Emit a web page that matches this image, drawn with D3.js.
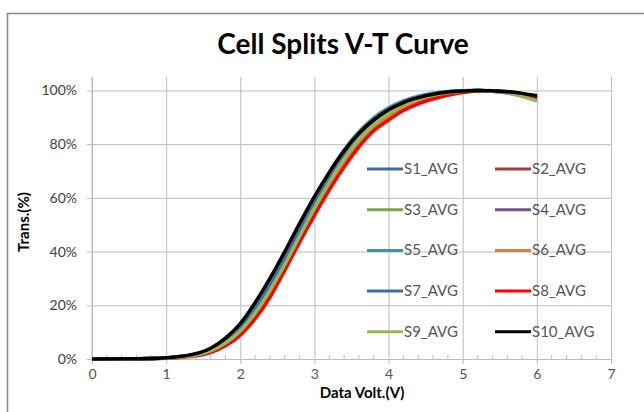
<!DOCTYPE html>
<html>
<head>
<meta charset="utf-8">
<script src="https://cdn.jsdelivr.net/npm/d3@7"></script>
<style>
  body { margin: 0; background: #fff; }
  text { font-family: Lato, "Open Sans", "Liberation Sans", sans-serif; }
</style>
</head>
<body>
<div id="chart"></div>
<script>
// data
const volts = [0, 0.5, 1.0, 1.2, 1.4, 1.6, 1.8, 2.0, 2.2, 2.4, 2.6, 2.8, 3.0, 3.2, 3.4, 3.6, 3.8, 4.0, 4.2, 4.4, 4.6, 4.8, 5.0, 5.2, 5.4, 5.6, 5.8, 6.0];

const s1 = [0, 0.05, 0.4, 0.9, 1.8, 3.6, 7.2, 12.3, 19.5, 28.5, 38.5, 49, 59, 68.5, 77, 84, 89.2, 93, 95.7, 97.5, 98.7, 99.5, 99.9, 100, 99.8, 99.2, 98.2, 96.8];
const s2 = [0, 0.04, 0.35, 0.8, 1.6, 3.2, 6.3, 11, 17.8, 26.4, 36.3, 46.8, 57.2, 66.7, 75.3, 82.5, 88, 92, 94.9, 97, 98.4, 99.3, 99.8, 100, 99.8, 99.3, 98.4, 97.2];
const s3 = [0, 0.04, 0.35, 0.8, 1.55, 3.1, 6.1, 10.7, 17.5, 26, 35.8, 46.3, 56.8, 66.3, 75, 82.2, 87.7, 91.8, 94.8, 96.9, 98.3, 99.2, 99.7, 100, 99.7, 99.1, 97.9, 96.2];
const s4 = [0, 0.04, 0.35, 0.8, 1.6, 3.3, 6.4, 11.1, 18, 26.7, 36.6, 47.2, 57.6, 67.1, 75.7, 82.8, 88.2, 92.2, 95.1, 97.1, 98.5, 99.3, 99.8, 100, 99.8, 99.2, 98.2, 96.8];
const s5 = [0, 0.05, 0.4, 0.9, 1.8, 3.6, 7.1, 12.1, 19.3, 28.3, 38.5, 49.2, 59.5, 69.3, 77.8, 84.6, 89.8, 93.5, 96.1, 97.9, 99, 99.6, 99.9, 100, 99.8, 99.2, 98.1, 96.6];
const s6 = [0, 0.03, 0.3, 0.7, 1.4, 2.8, 5.6, 9.9, 16.3, 24.5, 34, 44.5, 54.8, 64.3, 73, 80.4, 86.2, 90.5, 93.8, 96.1, 97.8, 98.8, 99.5, 99.9, 99.8, 99.3, 98.4, 97.2];
const s7 = [0, 0.04, 0.38, 0.85, 1.7, 3.4, 6.7, 11.5, 18.5, 27.3, 37.3, 48, 58.3, 67.8, 76.3, 83.3, 88.6, 92.5, 95.3, 97.2, 98.5, 99.4, 99.8, 100, 99.8, 99.3, 98.4, 97];
const s8 = [0, 0.02, 0.25, 0.6, 1.2, 2.4, 4.9, 8.9, 15, 23, 33, 43.5, 53.5, 63, 71.5, 79, 85, 89, 92.5, 95, 96.8, 98.2, 99.2, 99.8, 99.9, 99.6, 98.8, 97.5];
const s9 = [0, 0.04, 0.33, 0.78, 1.5, 3.0, 5.9, 10.4, 17.1, 25.5, 35.2, 45.7, 56.2, 65.8, 74.5, 81.8, 87.3, 91.5, 94.6, 96.8, 98.2, 99.1, 99.7, 100, 99.7, 99, 97.8, 96];
const s10 = [0, 0.06, 0.45, 1.0, 2.0, 4.0, 7.8, 13.2, 21, 30, 40, 50.5, 60.5, 69.5, 77.5, 84, 89, 92.8, 95.5, 97.3, 98.6, 99.4, 99.8, 100, 99.9, 99.5, 98.9, 98.0];

const seriesNames = ['S1_AVG', 'S2_AVG', 'S3_AVG', 'S4_AVG', 'S5_AVG', 'S6_AVG', 'S7_AVG', 'S8_AVG', 'S9_AVG', 'S10_AVG'];
const seriesValues = [s1, s2, s3, s4, s5, s6, s7, s8, s9, s10];
const seriesColors = ['#44699b', '#a33f3c', '#83a04a', '#6c5590', '#4193aa', '#d3803c', '#3f6ca5', '#ff0000', '#93ba56', '#000000'];

const xTicks = [0, 1, 2, 3, 4, 5, 6, 7];
const yTicks = [0, 20, 40, 60, 80, 100];

const width = 644;
const height = 412;
const margin = {"top": 77, "right": 33, "bottom": 53, "left": 92};
const graphWidth = width - margin.left - margin.right;
const graphHeight = height - margin.top - margin.bottom;

const svg = d3.select('#chart')
    .append('svg')
    .attr('width', width)
    .attr('height', height);

// outer chart border
svg.append('rect')
    .attr('x', 7.5)
    .attr('y', 13.5)
    .attr('width', 660)
    .attr('height', 420)
    .attr('fill', 'none')
    .attr('stroke', '#8a8a8a')
    .attr('stroke-width', 1.5);

svg.append('text')
    .text('Cell Splits V-T Curve')
    .attr('x', 343)
    .attr('y', 54)
    .attr('text-anchor', 'middle')
    .style('font-size', '28px')
    .style('font-weight', 'bold')
    .attr('fill', '#000');

const graph = svg.append('g')
    .attr('transform', `translate(${margin.left}, ${margin.top})`);

const xScale = d3.scaleLinear()
    .domain([0, 7])
    .range([0, graphWidth]);

const yScale = d3.scaleLinear()
    .domain([0, 105])
    .range([graphHeight, 0]);

// horizontal gridlines + left ticks
const yAxis = d3.axisLeft(yScale)
    .tickValues(yTicks)
    .tickSize(-graphWidth - 5)
    .tickFormat(d => d + '%');

const gy = graph.append('g')
    .attr('transform', 'translate(-5, 0)')
    .call(yAxis);
gy.select('.domain').remove();
gy.selectAll('line').attr('stroke', '#bcbcbc');
gy.selectAll('text')
    .attr('x', -10)
    .attr('fill', '#404040')
    .style('font-size', '14px');

// vertical gridlines + ticks below the axis
const xAxis = d3.axisBottom(xScale)
    .tickValues(xTicks)
    .tickSize(5)
    .tickFormat(d3.format('d'));

const gx = graph.append('g')
    .attr('transform', `translate(0, ${graphHeight})`)
    .call(xAxis);
gx.select('.domain').attr('stroke', '#bcbcbc');
gx.selectAll('.tick line')
    .attr('y1', -graphHeight)
    .attr('y2', 5)
    .attr('stroke', '#bcbcbc');
gx.selectAll('text')
    .attr('y', 10)
    .attr('fill', '#555')
    .style('font-size', '14px');

// minor ticks on the x axis
const minorX = d3.range(0, 35).map(i => i / 5).filter(v => Math.abs(v - Math.round(v)) > 0.01);
graph.append('g')
    .selectAll('line')
    .data(minorX)
    .enter()
    .append('line')
    .attr('x1', d => xScale(d))
    .attr('x2', d => xScale(d))
    .attr('y1', graphHeight - 4)
    .attr('y2', graphHeight)
    .attr('stroke', '#bcbcbc');

// y axis line
graph.append('line')
    .attr('x1', 0).attr('x2', 0)
    .attr('y1', 0).attr('y2', graphHeight)
    .attr('stroke', '#bcbcbc');

// axis titles
svg.append('text')
    .text('Data Volt.(V)')
    .attr('x', 362)
    .attr('y', 398)
    .attr('text-anchor', 'middle')
    .style('font-size', '15px')
    .style('font-weight', 'bold');

svg.append('text')
    .text('Trans.(%)')
    .attr('transform', 'translate(29, 222) rotate(-90)')
    .attr('text-anchor', 'middle')
    .style('font-size', '15px')
    .style('font-weight', 'bold');

// legend (two columns, drawn under the curves)
const legend = graph.append('g');
seriesNames.forEach(function(name, i) {
    const col = i % 2;
    const row = Math.floor(i / 2);
    const lx = 367 + col * 128 - margin.left;
    const ly = 169 + row * 40.7 - margin.top;
    legend.append('line')
        .attr('x1', lx).attr('x2', lx + 36)
        .attr('y1', ly).attr('y2', ly)
        .attr('stroke', seriesColors[i])
        .attr('stroke-width', 3);
    legend.append('text')
        .text(name)
        .attr('x', lx + 37)
        .attr('y', ly + 5)
        .attr('fill', '#555')
        .style('font-size', '15px');
});

const line = d3.line()
    .x((d, i) => xScale(volts[i]))
    .y(d => yScale(d))
    .curve(d3.curveMonotoneX);

graph.selectAll('path.curve')
    .data(seriesValues)
    .enter()
    .append('path')
    .attr('class', 'curve')
    .attr('d', d => line(d))
    .attr('fill', 'none')
    .attr('stroke', (d, i) => seriesColors[i])
    .attr('stroke-width', 3.5)
    .attr('stroke-linejoin', 'round');
</script>
</body>
</html>
